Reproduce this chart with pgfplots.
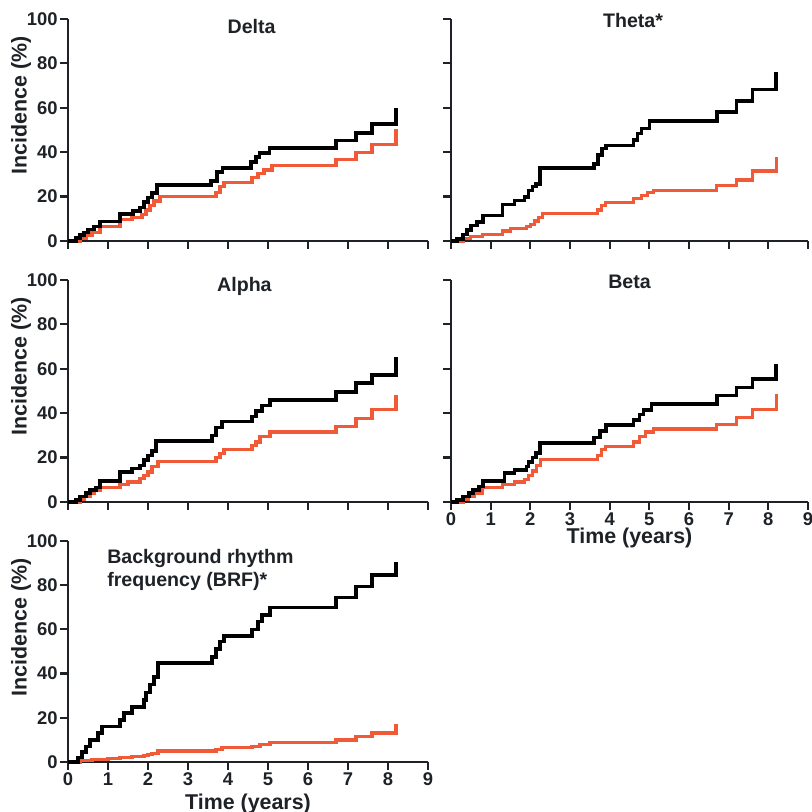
\documentclass[border=0pt]{standalone}
\usepackage{fontspec}
\setmainfont{Liberation Sans}
\usepackage{pgfplots}
\pgfplotsset{compat=1.18}

\definecolor{kmred}{RGB}{240,90,55}
\definecolor{axisgray}{RGB}{30,34,38}
\newcommand{\tk}{\fontsize{9.2}{11}\selectfont\bfseries}
\newcommand{\lb}{\fontsize{10.7}{12.5}\selectfont\bfseries}
\newcommand{\ttl}{\fontsize{9.8}{11.6}\selectfont\bfseries}

\pgfplotsset{
  km/.style={
    scale only axis, width=180pt, height=111pt,
    xmin=0, xmax=9, ymin=0, ymax=100,
    axis lines=left,
    axis line style={-, line width=1.1pt, axisgray},
    xtick={0,...,9}, ytick={0,20,...,100},
    tick align=outside, major tick length=4pt,
    tick style={line width=1.1pt, axisgray},
    tick label style={font=\tk, text=axisgray},
    /pgf/number format/assume math mode=true,
    yticklabel style={inner sep=1pt},
    xticklabel style={inner sep=1pt},
    label style={font=\lb, text=axisgray},
    ylabel={Incidence (\%)},
    ylabel style={at={(axis description cs:-0.13,0.61)}, anchor=center},
    clip=false,
  },
  nox/.style={xticklabels={}},
  noy/.style={yticklabels={}, ylabel={}},
  blk/.style={const plot, black, line width=1.8pt},
  rd/.style={const plot, kmred, line width=1.6pt},
}

\begin{document}
\begin{tikzpicture}
\useasboundingbox (0,0) rectangle (406pt,406pt);

% Delta
\begin{axis}[km, nox, at={(34pt,285.5pt)}, anchor=south west]
\addplot[rd] coordinates {(0,0)(0.3,1)(0.45,2.5)(0.6,4)(0.8,6.5)(1.3,9.5)(1.6,10.5)(1.85,12)(1.95,14)(2.05,16)(2.15,18)(2.3,20)(3.7,22)(3.8,24.5)(3.9,26.5)(4.6,28.5)(4.75,30.5)(4.9,32)(5.1,34)(6.7,36.6)(7.2,40)(7.6,43.6)(8.2,50.5)};
\addplot[blk] coordinates {(0,0)(0.2,1.3)(0.3,2.6)(0.4,3.9)(0.5,5.2)(0.65,6.5)(0.8,8.7)(1.3,12.1)(1.62,13.4)(1.8,15)(1.9,17.5)(2.0,19.5)(2.1,21.5)(2.22,25.3)(3.57,27)(3.72,31)(3.86,33)(4.58,35.6)(4.7,37.9)(4.79,39.7)(5.04,42)(6.7,45.2)(7.2,48.7)(7.6,52.8)(8.2,59.7)};
\node[font=\ttl, text=axisgray] at (axis description cs:0.51,0.965) {Delta};
\end{axis}

% Theta
\begin{axis}[km, nox, noy, width=178.5pt, at={(225.5pt,285.5pt)}, anchor=south west]
\addplot[rd] coordinates {(0,0)(0.3,1)(0.5,2)(0.8,3)(1.3,4.5)(1.5,5.5)(1.9,6.5)(2.0,7.5)(2.1,9)(2.2,10.5)(2.3,12.5)(3.7,14)(3.8,16)(3.9,17.5)(4.6,19)(4.8,20.5)(4.95,22)(5.1,22.8)(6.7,25)(7.2,27.5)(7.6,31.5)(8.2,37.9)};
\addplot[blk] coordinates {(0,0)(0.15,1)(0.3,3)(0.4,5)(0.5,7)(0.65,8.5)(0.8,11.5)(1.3,16.4)(1.6,18.3)(1.85,19.8)(1.95,22.8)(2.05,24.5)(2.15,25.8)(2.25,32.9)(3.6,34.8)(3.7,38.6)(3.8,41.6)(3.9,43.1)(4.6,45.4)(4.7,48.4)(4.8,50.7)(5.0,54)(6.7,58)(7.2,63)(7.6,68.3)(8.2,76.3)};
\node[font=\ttl, text=axisgray] at (axis description cs:0.51,0.995) {Theta*};
\end{axis}

% Alpha
\begin{axis}[km, nox, at={(34pt,155pt)}, anchor=south west]
\addplot[rd] coordinates {(0,0)(0.3,1)(0.4,2.5)(0.55,4)(0.65,5)(0.8,6.5)(1.3,8)(1.5,9)(1.8,10.5)(1.9,12)(2.0,13.5)(2.1,16)(2.25,18.1)(3.7,20)(3.8,22)(3.9,23.5)(4.6,25.5)(4.7,27)(4.8,29.5)(5.05,31.5)(6.7,34)(7.2,37.5)(7.6,41.5)(8.2,48)};
\addplot[blk] coordinates {(0,0)(0.2,1)(0.3,2.5)(0.45,4)(0.55,5.5)(0.7,6.5)(0.8,9.5)(1.3,13.6)(1.6,15)(1.8,16.5)(1.9,19)(2.0,21)(2.1,23)(2.2,27.5)(3.6,30)(3.7,33.5)(3.85,36.2)(4.6,38.5)(4.7,41)(4.85,43.5)(5.05,46)(6.7,49.5)(7.2,53.5)(7.6,57.3)(8.2,65.3)};
\node[font=\ttl, text=axisgray] at (axis description cs:0.49,0.97) {Alpha};
\end{axis}

% Beta
\begin{axis}[km, noy, width=178.5pt, at={(225.5pt,155pt)}, anchor=south west,
  xlabel={Time (years)}, xlabel style={at={(axis description cs:0.5,-0.16)}, anchor=center}]
\addplot[rd] coordinates {(0,0)(0.3,1)(0.45,2.5)(0.6,4)(0.8,6.5)(1.3,8)(1.6,9)(1.85,10)(1.95,12)(2.05,14)(2.15,16.5)(2.25,19.3)(3.7,21)(3.8,23.5)(3.9,25)(4.6,27)(4.75,29.5)(4.9,31.5)(5.1,32.9)(6.7,35)(7.2,38)(7.6,41.6)(8.2,48.7)};
\addplot[blk] coordinates {(0,0)(0.15,1)(0.3,2.5)(0.45,4)(0.55,5.5)(0.7,7)(0.8,9.5)(1.35,13)(1.6,14.5)(1.9,16)(1.95,18)(2.05,20)(2.15,22)(2.25,26.5)(3.6,29)(3.75,32)(3.9,34.8)(4.6,37)(4.75,39.5)(4.85,41.5)(5.05,44.2)(6.7,48)(7.2,51.5)(7.6,55.4)(8.2,62.3)};
\node[font=\ttl, text=axisgray] at (axis description cs:0.5,0.99) {Beta};
\end{axis}

% Background rhythm frequency
\begin{axis}[km, height=110.5pt, at={(34pt,25pt)}, anchor=south west,
  xlabel={Time (years)}, xlabel style={at={(axis description cs:0.5,-0.19)}, anchor=center}]
\addplot[rd] coordinates {(0,0)(0.3,0.5)(0.6,1)(1.0,1.5)(1.3,2)(1.6,2.5)(1.9,3)(2.0,3.5)(2.1,4)(2.25,5)(3.7,5.5)(3.85,6.5)(4.6,7)(4.8,8)(5.05,9)(6.7,10)(7.2,11.5)(7.6,13.1)(8.2,17)};
\addplot[blk] coordinates {(0,0)(0.25,2)(0.35,4.5)(0.45,7)(0.55,10)(0.75,13)(0.85,16)(1.3,19)(1.4,22.3)(1.6,25)(1.9,28)(1.95,31.5)(2.05,35)(2.15,38.5)(2.25,44.9)(3.6,47.5)(3.7,51)(3.8,54.5)(3.9,57.1)(4.6,60)(4.75,63.5)(4.85,66.5)(5.05,69.9)(6.7,74.5)(7.2,79.5)(7.6,84.5)(8.2,90.5)};
\node[font=\ttl, text=axisgray, align=left, anchor=north west, inner sep=0pt] at (axis description cs:0.108,0.965) {Background rhythm\\frequency (BRF)*};
\end{axis}
\end{tikzpicture}
\end{document}
